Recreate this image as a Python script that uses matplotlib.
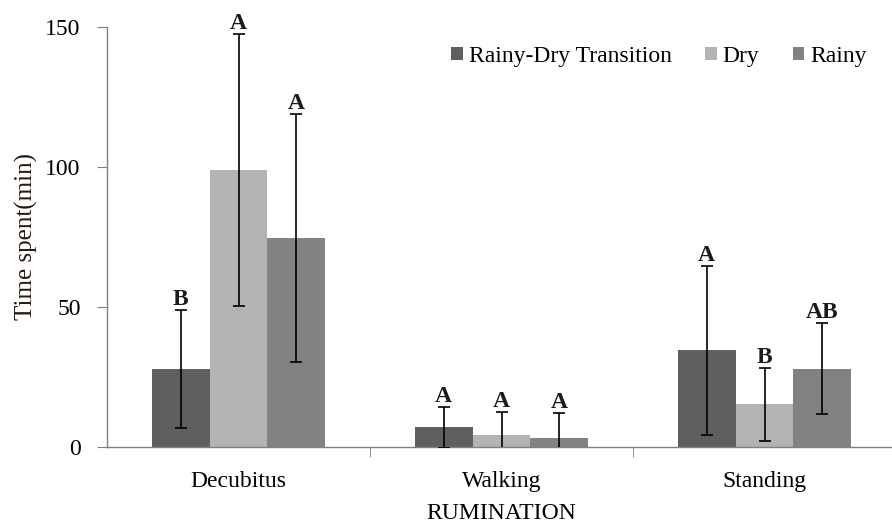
import numpy as np
import matplotlib.pyplot as plt

plt.rcParams['font.family'] = ['Liberation Serif', 'DejaVu Serif']

# Data
categories = ['Decubitus', 'Walking', 'Standing']
seasons = ['Rainy-Dry Transition', 'Dry', 'Rainy']

rdt_mean = [27.9, 7.0, 34.5]
rdt_err = [21.0, 7.4, 30.3]
dry_mean = [98.9, 4.3, 15.2]
dry_err = [48.6, 8.1, 13.0]
rainy_mean = [74.6, 3.3, 28.0]
rainy_err = [44.3, 8.7, 16.3]

rdt_letters = ['B', 'A', 'A']
dry_letters = ['A', 'A', 'B']
rainy_letters = ['A', 'A', 'AB']

colors = ['#5f5f5f', '#b3b3b3', '#828282']

fig = plt.figure(figsize=(8.92, 5.24), dpi=100)
ax = fig.add_axes([107/892, 1 - 447/524, 789/892, 420/524])

x = np.arange(len(categories))
width = 0.22
series = [(rdt_mean, rdt_err, rdt_letters),
          (dry_mean, dry_err, dry_letters),
          (rainy_mean, rainy_err, rainy_letters)]

for i, (mean, err, letters) in enumerate(series):
    pos = x + (i - 1) * width
    ax.bar(pos, mean, width, color=colors[i], label=seasons[i], zorder=2)
    ax.errorbar(pos, mean, yerr=err, fmt='none', ecolor='black',
                elinewidth=1.2, capsize=4, capthick=1.2, zorder=3, clip_on=True)
    for p, m, e, lab in zip(pos, mean, err, letters):
        ax.text(p, m + e, lab, ha='center', va='bottom', fontsize=17,
                fontweight='bold', color='#1a1a1a')

ax.set_xlim(-0.5, 2.5)
ax.set_ylim(0, 150)
ax.set_yticks([0, 50, 100, 150])
ax.tick_params(axis='y', labelsize=17, length=7, color='#808080', pad=12)

# category labels with tick marks at boundaries
ax.set_xticks(x)
ax.set_xticklabels(categories, fontsize=17)
ax.tick_params(axis='x', which='major', length=0, pad=17)
ax.set_xticks([0.5, 1.5], minor=True)
ax.tick_params(axis='x', which='minor', length=7, color='#808080', direction='out')

ax.set_xlabel('RUMINATION', fontsize=17, labelpad=8)
ax.set_ylabel('Time spent(min)', fontsize=18, color='#2a1a10', labelpad=5)

for s in ['top', 'right']:
    ax.spines[s].set_visible(False)
for s in ['left', 'bottom']:
    ax.spines[s].set_color('#808080')
    ax.spines[s].set_linewidth(1)

ax.legend(loc='upper right', bbox_to_anchor=(0.99, 1.005), ncol=3, frameon=False,
          fontsize=17, handlelength=0.5, handleheight=0.5, handletextpad=0.25,
          columnspacing=1.4)

fig.savefig('out.png', dpi=100)
